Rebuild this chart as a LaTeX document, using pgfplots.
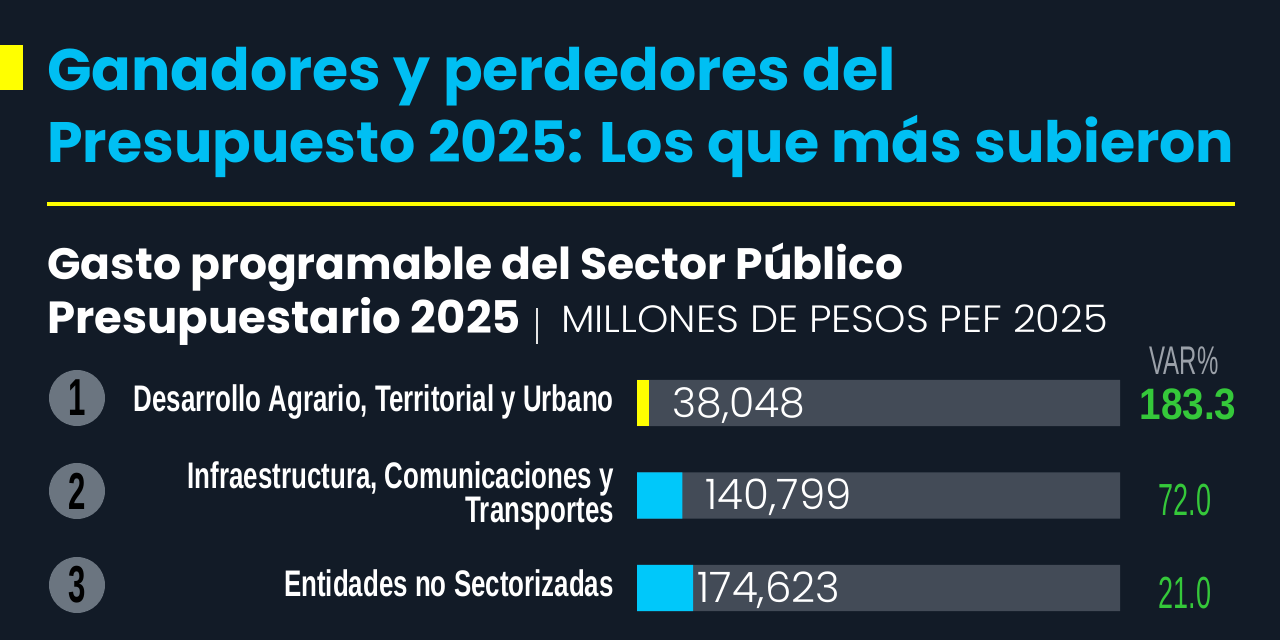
\documentclass[border=0pt]{standalone}
\usepackage{pgfplots}
\pgfplotsset{compat=1.18}
\usepackage{fontspec}
\setmainfont{Poppins}
\newfontfamily\geo{Poppins}
\newfontfamily\geolight{Poppins Light}
\newfontfamily\geolightw{Poppins Light}[FakeStretch=1.05]
\newfontfamily\cond{Liberation Sans}[FakeStretch=0.6]
\newfontfamily\condlab{Liberation Sans}[FakeStretch=0.7]
\newfontfamily\condwide{Liberation Sans}[FakeStretch=0.88]

\definecolor{bg}{HTML}{121B27}
\definecolor{titlecyan}{HTML}{00BFF3}
\definecolor{barcyan}{HTML}{00C8FA}
\definecolor{baryellow}{HTML}{FFFF00}
\definecolor{track}{HTML}{434B57}
\definecolor{circ}{HTML}{6B7580}
\definecolor{vargray}{HTML}{9BA1A9}
\definecolor{vargreen}{HTML}{35C83A}

\begin{document}
\begin{tikzpicture}
\begin{scope}[x=1pt,y=1pt]
\fill[bg] (0,0) rectangle (1280,640);
\useasboundingbox (0,0) rectangle (1280,640);
% title
\fill[baryellow] (0,550) rectangle (23,595);
\node[anchor=base west, inner sep=0, text=titlecyan] at (47,549)
  {\geo\bfseries\fontsize{58.5}{58}\selectfont Ganadores y perdedores del};
\node[anchor=base west, inner sep=0, text=titlecyan] at (47,477)
  {\geo\bfseries\fontsize{57}{58}\selectfont Presupuesto 2025: Los que más subieron};
\draw[baryellow, line width=3.5pt] (47,436) -- (1235,436);
% subtitle
\node[anchor=base west, inner sep=0, text=white] at (47,360)
  {\geo\bfseries\fontsize{44}{44}\selectfont Gasto programable del Sector Público};
\node[anchor=base west, inner sep=0, text=white] at (47,306)
  {\geo\bfseries\fontsize{45}{45}\selectfont Presupuestario 2025};
\draw[white!80!gray, line width=1.5pt] (537,296) -- (537,332);
\node[anchor=base west, inner sep=0, text=white] at (561,307)
  {\geolightw\fontsize{38}{38}\selectfont MILLONES DE PESOS PEF 2025};
% ranks
\foreach \yy/\n in {242/1, 149/2, 55/3} {
  \fill[circ] (77,\yy) circle (28);
  \node[inner sep=0, text=black] at (77,\yy) {\cond\bfseries\fontsize{52}{52}\selectfont \n};
}
% category labels
\node[anchor=base east, inner sep=0, text=white] at (614,228)
  {\condlab\bfseries\fontsize{37}{37}\selectfont Desarrollo Agrario, Territorial y Urbano};
\node[anchor=base east, inner sep=0, text=white] at (614,151)
  {\condlab\bfseries\fontsize{37}{37}\selectfont Infraestructura, Comunicaciones y};
\node[anchor=base east, inner sep=0, text=white] at (614,117)
  {\condlab\bfseries\fontsize{37}{37}\selectfont Transportes};
\node[anchor=base east, inner sep=0, text=white] at (614,43)
  {\condlab\bfseries\fontsize{37}{37}\selectfont Entidades no Sectorizadas};
% VAR%
\node[anchor=base, inner sep=0, text=vargray] at (1184,265)
  {\cond\fontsize{40}{40}\selectfont VAR\%};
\node[anchor=base, inner sep=0, text=vargreen] at (1188,220)
  {\condwide\bfseries\fontsize{44}{44}\selectfont 183.3};
\node[anchor=base, inner sep=0, text=vargreen] at (1185,124)
  {\cond\fontsize{45}{45}\selectfont 72.0};
\node[anchor=base, inner sep=0, text=vargreen] at (1185,31)
  {\cond\fontsize{45}{45}\selectfont 21.0};
\end{scope}

\begin{axis}[
  at={(637pt,283.25pt)}, anchor=north west,
  scale only axis, width=483pt, height=277.5pt,
  xmin=0, xmax=1500000, ymin=0.5, ymax=3.5, y dir=reverse,
  hide axis, xbar, bar width=46pt, bar shift=0pt,
  clip=false,
]
\addplot[fill=track, draw=none] coordinates {(1500000,1) (1500000,2) (1500000,3)};
\addplot[fill=baryellow, draw=none] coordinates {(38048,1)};
\addplot[fill=barcyan, draw=none] coordinates {(140799,2) (174623,3)};
\node[anchor=base west, inner sep=0, text=white, xshift=23pt, yshift=-14pt] at (axis cs:38048,1)
  {\geolight\fontsize{41}{41}\selectfont 38,048};
\node[anchor=base west, inner sep=0, text=white, xshift=23pt, yshift=-14pt] at (axis cs:140799,2)
  {\geolight\fontsize{42}{42}\selectfont 140,799};
\node[anchor=base west, inner sep=0, text=white, xshift=4pt, yshift=-14pt] at (axis cs:174623,3)
  {\geolight\fontsize{42}{42}\selectfont 174,623};
\end{axis}
\end{tikzpicture}
\end{document}
